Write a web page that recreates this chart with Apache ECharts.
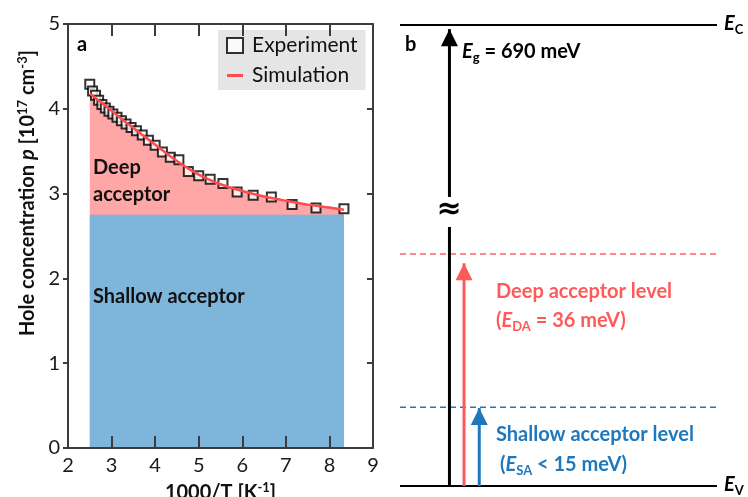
<!DOCTYPE html>
<html><head><meta charset="utf-8">
<script src="https://cdn.jsdelivr.net/npm/echarts@6/dist/echarts.min.js"></script>
<style>html,body{margin:0;padding:0;background:#fff}#c{width:748px;height:497px}</style>
</head><body><div id="c"></div>
<script>
// ---- panel a data ----
const invT = [2.500, 2.564, 2.632, 2.703, 2.778, 2.857, 2.941, 3.030, 3.125, 3.226, 3.333, 3.448, 3.571, 3.704, 3.846, 4.000, 4.167, 4.348, 4.545, 4.762, 5.000, 5.263, 5.556, 5.882, 6.250, 6.667, 7.143, 7.692, 8.333];
const holeConc = [4.29, 4.21, 4.16, 4.10, 4.05, 4.01, 3.97, 3.94, 3.90, 3.86, 3.82, 3.78, 3.74, 3.69, 3.63, 3.57, 3.49, 3.43, 3.40, 3.26, 3.21, 3.17, 3.12, 3.02, 2.98, 2.96, 2.87, 2.83, 2.82];
const simX = [2.5, 2.75, 3.0, 3.25, 3.5, 3.75, 4.0, 4.25, 4.5, 4.75, 5.0, 5.5, 6.0, 6.5, 7.0, 7.5, 8.0, 8.333];
const simY = [4.18, 4.08, 3.98, 3.87, 3.775, 3.675, 3.58, 3.48, 3.385, 3.30, 3.225, 3.11, 3.03, 2.965, 2.915, 2.87, 2.835, 2.81];
const shallowX = [2.5, 8.333];
const shallowY = [2.75, 2.75];
const xRange = [2, 9];
const yRange = [0, 5];

// ---- panel b (schematic band diagram, levels in % of drawn height) ----
const bandLevels = { Ev: 0, SA: 17.1, DA: 50.3, Ec: 100 };
const arrowX = { gap: 0.156, deep: 0.202, shallow: 0.25 };
const arrowTop = { gap: 99.1, deep: 48.3, shallow: 16.9 };
const gapBreak = [56.2, 62.7];

const FONT = 'Lato';
const chart = echarts.init(document.getElementById('c'));

const pairs = (xs, ys) => xs.map((x, i) => [x, ys[i]]);
const axisCol = '#3c3c3c';

const subRich = {
  b: { fontSize: 20, fontWeight: 'bold', fontFamily: FONT, lineHeight: 24 },
  i: { fontSize: 20, fontWeight: 'bold', fontStyle: 'italic', fontFamily: FONT, lineHeight: 24 },
  sub: { fontSize: 13, fontWeight: 'bold', fontFamily: FONT, lineHeight: 6, verticalAlign: 'bottom' },
  sup: { fontSize: 13, fontWeight: 'bold', fontFamily: FONT, lineHeight: 14, verticalAlign: 'top' }
};
function richFor(color) {
  const r = {};
  for (const k in subRich) r[k] = Object.assign({}, subRich[k], { fill: color, color: color });
  return r;
}
function txt(x, y, text, color, opts) {
  return Object.assign({
    type: 'text', x: x, y: y, z: 100,
    style: Object.assign({ text: text, fill: color, rich: richFor(color), align: 'left', verticalAlign: 'middle',
      font: 'bold 20px ' + FONT }, (opts && opts.style) || {})
  }, (opts && opts.el) || {});
}

const lvlLine = (y, color, type, width) => ({
  type: 'line', xAxisIndex: 2, yAxisIndex: 2, symbol: 'none', silent: true, clip: false,
  data: [[0, y], [1, y]], lineStyle: { color: color, width: width, type: type }, z: 5
});
const arrow = (x, y0, y1, color) => ({
  type: 'line', xAxisIndex: 2, yAxisIndex: 2, silent: true, clip: false, z: 6,
  symbol: 'none', showSymbol: true,
  lineStyle: { color: color, width: 3 }, itemStyle: { color: color },
  data: [{ value: [x, y0], symbol: 'none' },
         { value: [x, y1], symbol: 'triangle', symbolSize: [17, 17], symbolOffset: [0, '50%'] }]
});

const option = {
  animation: false,
  grid: [
    { left: 68, right: 375, top: 24, bottom: 49, outerBoundsMode: 'none', containLabel: false },
    { left: 400, width: 317, top: 25, bottom: 11, outerBoundsMode: 'none', containLabel: false }
  ],
  xAxis: [
    { type: 'value', gridIndex: 0, min: xRange[0], max: xRange[1], interval: 1, position: 'bottom',
      axisLine: { show: true, onZero: false, lineStyle: { color: axisCol, width: 2 } },
      axisTick: { show: true, inside: true, length: 12, lineStyle: { color: axisCol, width: 2 } },
      axisLabel: { fontSize: 20, fontFamily: FONT, color: '#1a1a1a', margin: 8 },
      splitLine: { show: false },
      name: '1000/T [K{sup|-1}]', nameLocation: 'middle', nameGap: 33,
      nameTextStyle: { fontSize: 20, fontWeight: 'bold', fontFamily: FONT, color: '#111', lineHeight: 24,
        rich: { sup: { fontSize: 13, fontWeight: 'bold', fontFamily: FONT, color: '#111', lineHeight: 14, verticalAlign: 'top' } } },
      z: 10 },
    { type: 'value', gridIndex: 0, min: xRange[0], max: xRange[1], interval: 1, position: 'top',
      axisLine: { show: true, onZero: false, lineStyle: { color: axisCol, width: 2 } },
      axisTick: { show: true, inside: true, length: 12, lineStyle: { color: axisCol, width: 2 } },
      axisLabel: { show: false }, splitLine: { show: false }, z: 10 },
    { type: 'value', gridIndex: 1, min: 0, max: 1, show: false }
  ],
  yAxis: [
    { type: 'value', gridIndex: 0, min: yRange[0], max: yRange[1], interval: 1, position: 'left',
      axisLine: { show: true, onZero: false, lineStyle: { color: axisCol, width: 2 } },
      axisTick: { show: true, inside: false, length: 5, lineStyle: { color: axisCol, width: 2 } },
      axisLabel: { fontSize: 20, fontFamily: FONT, color: '#1a1a1a', margin: 8 },
      splitLine: { show: false }, z: 10 },
    { type: 'value', gridIndex: 0, min: yRange[0], max: yRange[1], interval: 1, position: 'right',
      axisLine: { show: true, onZero: false, lineStyle: { color: axisCol, width: 2 } },
      axisTick: { show: true, inside: true, length: 6, lineStyle: { color: axisCol, width: 2 } },
      axisLabel: { show: false }, splitLine: { show: false }, z: 10 },
    { type: 'value', gridIndex: 1, min: 0, max: 100, show: false }
  ],
  legend: {
    data: [
      { name: 'Experiment' },
      { name: 'Simulation', icon: 'path://M0,0 L0,0 M0,6 L16,6 L16,9 L0,9 Z M16,15 L16,15', itemStyle: { color: '#ff4b4b' } }
    ],
    orient: 'vertical', left: 218, top: 30,
    backgroundColor: '#e5e5e5', padding: [5, 8, 4, 8], itemGap: 9,
    itemWidth: 16, itemHeight: 15,
    textStyle: { fontSize: 21, fontFamily: FONT, color: '#111', padding: [0, 0, 0, 4] }
  },
  graphic: [
    txt(77, 45, 'a', '#000'),
    txt(93, 168, 'Deep', '#111'),
    txt(93, 195, 'acceptor', '#111'),
    txt(93, 297, 'Shallow acceptor', '#111'),
    txt(28, 193, '{b|Hole concentration }{i|p}{b| [10}{sup|17}{b| cm}{sup|-3}{b|]}', '#111',
        { el: { rotation: Math.PI / 2 }, style: { align: 'center' } }),
    txt(405, 45, 'b', '#000'),
    txt(462, 52, '{i|E}{sub|g}{b| = 690 meV}', '#000'),
    txt(449, 210, '≈', '#000', { style: { align: 'center', font: 'bold 30px DejaVu Sans' } }),
    txt(496, 292, '{b|Deep acceptor level}', '#ff5a5a'),
    txt(496, 321, '{b|(}{i|E}{sub|DA}{b| = 36 meV)}', '#ff5a5a'),
    txt(496, 435, '{b|Shallow acceptor level}', '#1e78be'),
    txt(500, 465, '{b|(}{i|E}{sub|SA}{b| < 15 meV)}', '#1e78be'),
    txt(724, 24, '{i|E}{sub|C}', '#000'),
    txt(724, 485, '{i|E}{sub|V}', '#000')
  ],
  series: [
    { type: 'line', name: 'deepFill', xAxisIndex: 0, yAxisIndex: 0, data: pairs(simX, simY), smooth: 0.3,
      symbol: 'none', silent: true, lineStyle: { width: 0 }, areaStyle: { color: '#ffa6a6', opacity: 1 }, z: 1 },
    { type: 'line', name: 'shallowFill', xAxisIndex: 0, yAxisIndex: 0, data: pairs(shallowX, shallowY),
      symbol: 'none', silent: true, lineStyle: { width: 0 }, areaStyle: { color: '#7eb5db', opacity: 1 }, z: 2 },
    { type: 'scatter', name: 'Experiment', xAxisIndex: 0, yAxisIndex: 0, data: pairs(invT, holeConc),
      symbol: 'rect', symbolSize: 9, itemStyle: { color: '#fff', borderColor: '#000', borderWidth: 2 }, z: 3 },
    { type: 'line', name: 'Simulation', xAxisIndex: 0, yAxisIndex: 0, data: pairs(simX, simY), smooth: 0.3,
      symbol: 'none', lineStyle: { color: '#ff4b4b', width: 2.5 }, itemStyle: { color: '#ff4b4b' }, z: 4 },
    lvlLine(bandLevels.Ec, '#000', 'solid', 2),
    lvlLine(bandLevels.Ev, '#000', 'solid', 2),
    lvlLine(bandLevels.DA, '#ff6262', [6, 4], 1.5),
    lvlLine(bandLevels.SA, '#1e78be', [6, 4], 1.5),
    { type: 'line', xAxisIndex: 2, yAxisIndex: 2, silent: true, clip: false, symbol: 'none', z: 6,
      lineStyle: { color: '#000', width: 3 }, data: [[arrowX.gap, bandLevels.Ev], [arrowX.gap, gapBreak[0]]] },
    arrow(arrowX.gap, gapBreak[1], arrowTop.gap, '#000'),
    arrow(arrowX.deep, bandLevels.Ev, arrowTop.deep, '#ff5a5a'),
    arrow(arrowX.shallow, bandLevels.Ev, arrowTop.shallow, '#1e78be')
  ]
};
chart.setOption(option);
</script>
</body></html>
